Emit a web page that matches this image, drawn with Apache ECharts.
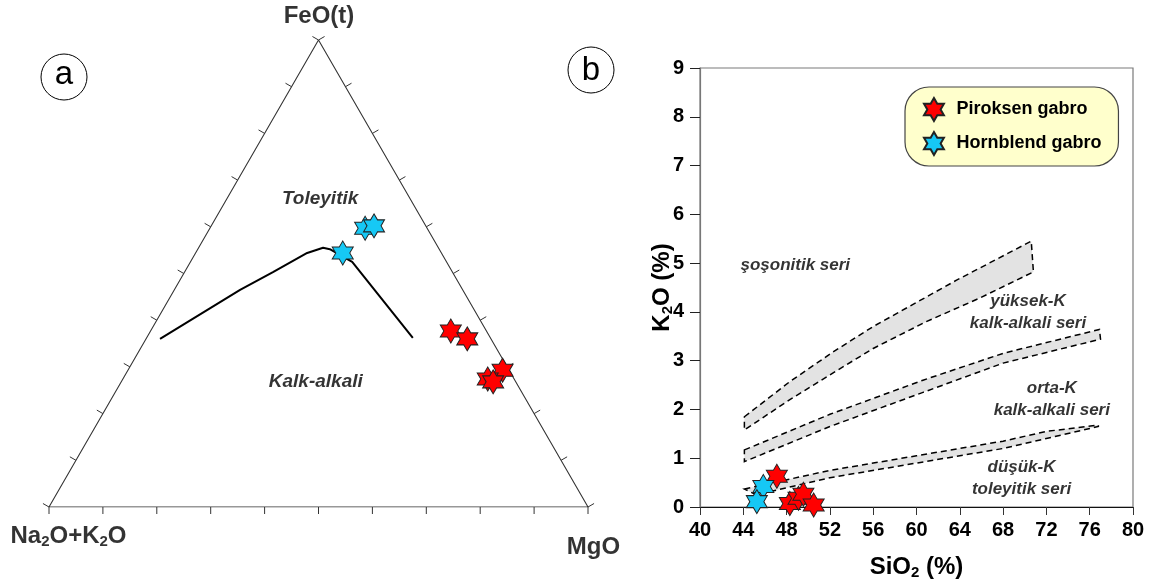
<!DOCTYPE html>
<html><head><meta charset="utf-8">
<script src="https://cdn.jsdelivr.net/npm/echarts@6/dist/echarts.min.js"></script>
<style>html,body{margin:0;padding:0;background:#fff}#c{width:1154px;height:585px}</style>
</head><body><div id="c"></div><script>
// ---------- (a) AFM ternary data: [Na2O+K2O, FeO(t), MgO] (%) ----------
const ternPiroksen = [[6.6,37.7,55.7],[4.4,36.0,59.6],[1.2,29.3,69.5],[4.9,27.4,67.7],[4.2,26.8,69.0]];
const ternHornblend = [[18.3,54.4,27.3],[11.5,59.7,28.8],[9.6,60.2,30.2]];
const ternBoundary = [[61.4,36.0,2.6],[41.3,46.5,12.2],[33.3,50.3,16.4],[24.9,54.4,20.7],[21.4,55.5,23.1],[20.3,55.2,24.5],[17.5,52.5,30.0],[14.4,36.2,49.4]];
const ternTicks = [0,10,20,30,40,50,60,70,80,90,100];
const ternVertexNames = ['Na2O+K2O','FeO(t)','MgO'];
const ternFieldNames = ['Toleyitik','Kalk-alkali'];
const ternFieldPos = [[16.7,66.0,17.3],[37.1,26.8,36.1]];

// ---------- (b) SiO2 vs K2O data ----------
const k2oPiroksen = [[47.1,0.63],[48.3,0.07],[49.1,0.18],[49.55,0.26],[50.5,0.04]];
const k2oHornblend = [[45.85,0.42],[45.25,0.11]];
const band1Upper = [[44.1,1.85],[48.3,2.57],[52.3,3.18],[56,3.70],[63.7,4.65],[70.6,5.45]];
const band1Lower = [[44.1,1.58],[48.3,2.2],[52.3,2.75],[56,3.25],[60.9,3.80],[65.8,4.28],[70.8,4.82]];
const band2Upper = [[44.1,1.17],[52,1.9],[60.6,2.6],[68,3.15],[76.9,3.64]];
const band2Lower = [[44.1,0.93],[52,1.65],[60.6,2.35],[68,2.95],[77,3.44]];
const band3Upper = [[44.1,0.37],[52,0.75],[60,1.05],[68,1.35],[72,1.55],[76.8,1.68]];
const band3Lower = [[45.2,0.25],[52,0.6],[60,0.9],[68,1.2],[76.8,1.65]];
const seriesFieldNames = ['şoşonitik seri','yüksek-K\nkalk-alkali seri','orta-K\nkalk-alkali seri','düşük-K\ntoleyitik seri'];
const seriesFieldPos = [[48.8,4.96],[70.3,4.0],[72.5,2.21],[69.7,0.59]];
const legendNames = ['Piroksen gabro','Hornblend gabro'];

// ---------- helpers ----------
const FF = '"Liberation Sans", Arial, sans-serif';
const SQ = Math.sqrt(3)/2;
function tern(p){const s=p[0]+p[1]+p[2];const F=p[1]/s,M=p[2]/s;return [M+F/2,F*SQ];}
const STAR = 'path://M0,-10L2.887,-5L8.66,-5L5.774,0L8.66,5L2.887,5L0,10L-2.887,5L-8.66,5L-5.774,0L-8.66,-5L-2.887,-5Z';
const RED = '#ff0000', BLUE = '#16c8f5';
const STARSIZE = [21,24];
const bands = [[band1Upper,band1Lower],[band2Upper,band2Lower],[band3Upper,band3Lower]];

// ternary tick marks: [x, y, nx, ny]
const tickData = [];
ternTicks.forEach(t=>{
  const b = tern([100-t,0,t]); tickData.push([b[0],b[1],0,1]);
  const l = tern([100-t,t,0]); tickData.push([l[0],l[1],-0.866,-0.5]);
  const r = tern([0,t,100-t]); tickData.push([r[0],r[1],0.866,-0.5]);
});
const triangle = [[100,0,0],[0,0,100],[0,100,0],[100,0,0]].map(tern);

const rich = {
  b:{fontSize:24,fontWeight:'bold',fontFamily:FF,color:'#000'},
  s:{fontSize:15,fontWeight:'bold',fontFamily:FF,color:'#000',verticalAlign:'bottom',padding:[11,0,0,0]}
};

const chart = echarts.init(document.getElementById('c'));
chart.setOption({
  animation:false,
  backgroundColor:'#fff',
  grid:[
    {left:49,top:40,width:539,height:467,show:false},
    {left:700,top:68,width:433,height:439,show:true,borderColor:'#7a7a7a',borderWidth:1.2,backgroundColor:'transparent'}
  ],
  xAxis:[
    {gridIndex:0,type:'value',min:0,max:1,show:false},
    {gridIndex:1,type:'value',min:40,max:80,interval:4,
     name:'{b|SiO}{s|2}{b| (%)}',nameLocation:'middle',nameGap:47,nameMoveOverlap:false,nameTextStyle:{rich:rich},
     axisLine:{lineStyle:{color:'#111',width:1.2}},
     axisTick:{inside:false,length:8,lineStyle:{color:'#333'}},
     axisLabel:{margin:13,fontSize:20,fontWeight:'bold',fontFamily:FF,color:'#000'},
     splitLine:{show:false}}
  ],
  yAxis:[
    {gridIndex:0,type:'value',min:0,max:SQ,show:false},
    {gridIndex:1,type:'value',min:0,max:9,interval:1,
     name:'{b|K}{s|2}{b|O (%)}',nameLocation:'middle',nameGap:25,nameRotate:90,nameMoveOverlap:false,nameTextStyle:{rich:rich},
     axisLine:{show:true,lineStyle:{color:'#777',width:1.2}},
     axisTick:{show:true,inside:false,length:10,lineStyle:{color:'#222'}},
     axisLabel:{margin:16,fontSize:20,fontWeight:'bold',fontFamily:FF,color:'#000'},
     splitLine:{show:false}}
  ],
  legend:{
    data:[{name:legendNames[0],icon:STAR},{name:legendNames[1],icon:STAR}],
    orient:'vertical',left:905,top:87,itemWidth:21,itemHeight:23,itemGap:9,
    padding:[10,17,10,18],backgroundColor:'#ffffcc',borderColor:'#444',borderWidth:1.2,borderRadius:24,
    textStyle:{fontSize:18,fontWeight:'bold',fontFamily:FF,color:'#000',padding:[0,0,0,7]}
  },
  graphic:[
    {type:'circle',shape:{cx:64,cy:77,r:23},style:{fill:'none',stroke:'#000',lineWidth:1}},
    {type:'text',x:64,y:75,style:{text:'a',font:'33px '+FF,fill:'#000',align:'center',verticalAlign:'middle'}},
    {type:'circle',shape:{cx:591,cy:70,r:23},style:{fill:'none',stroke:'#000',lineWidth:1}},
    {type:'text',x:591,y:71,style:{text:'b',font:'33px '+FF,fill:'#000',align:'center',verticalAlign:'middle'}}
  ],
  series:[
    // ----- ternary frame -----
    {type:'line',xAxisIndex:0,yAxisIndex:0,data:triangle,symbol:'none',lineStyle:{color:'#333',width:1.1},z:2,silent:true},
    {type:'custom',xAxisIndex:0,yAxisIndex:0,data:tickData,z:2,silent:true,
     renderItem:function(params,api){
       const p=api.coord([api.value(0),api.value(1)]);const nx=api.value(2),ny=api.value(3);
       return {type:'line',shape:{x1:p[0],y1:p[1],x2:p[0]+nx*7,y2:p[1]+ny*7},style:{stroke:'#333',lineWidth:1}};
     }},
    {type:'line',xAxisIndex:0,yAxisIndex:0,data:ternBoundary.map(tern),symbol:'none',lineStyle:{color:'#000',width:2},z:3,silent:true},
    {type:'scatter',xAxisIndex:0,yAxisIndex:0,symbol:'circle',symbolSize:1,itemStyle:{color:'rgba(0,0,0,0)'},z:6,silent:true,
     label:{show:true,position:'inside',formatter:'{b}',fontSize:19,fontWeight:'bold',fontStyle:'italic',fontFamily:FF,color:'#000'},
     data:ternFieldNames.map((n,i)=>({name:n,value:tern(ternFieldPos[i])}))},
    {type:'scatter',xAxisIndex:0,yAxisIndex:0,symbol:'circle',symbolSize:1,itemStyle:{color:'rgba(0,0,0,0)'},z:6,silent:true,
     data:[
       {name:ternVertexNames[0],value:tern([100,0,0]),label:{show:true,position:[0,0],offset:[20,30],align:'center',verticalAlign:'middle',formatter:'{b|Na}{s|2}{b|O+K}{s|2}{b|O}',rich:rich}},
       {name:ternVertexNames[1],value:tern([0,100,0]),label:{show:true,position:[0,0],offset:[1,-23],align:'center',verticalAlign:'middle',formatter:'{b|FeO(t)}',rich:rich}},
       {name:ternVertexNames[2],value:tern([0,0,100]),label:{show:true,position:[0,0],offset:[6,41],align:'center',verticalAlign:'middle',formatter:'{b|MgO}',rich:rich}}
     ]},
    {name:legendNames[0],type:'scatter',xAxisIndex:0,yAxisIndex:0,symbol:STAR,symbolSize:STARSIZE,z:5,
     itemStyle:{color:RED,borderColor:'#222',borderWidth:1,opacity:1},data:ternPiroksen.map(tern)},
    {name:legendNames[1],type:'scatter',xAxisIndex:0,yAxisIndex:0,symbol:STAR,symbolSize:STARSIZE,z:5,
     itemStyle:{color:BLUE,borderColor:'#222',borderWidth:1,opacity:1},data:ternHornblend.map(tern)},
    // ----- panel b -----
    {type:'custom',xAxisIndex:1,yAxisIndex:1,z:1,silent:true,
     data:bands.map((b,i)=>[44,1,i]),encode:{x:0,y:1},
     renderItem:function(params,api){
       const b=bands[api.value(2)];
       const pts=b[0].map(p=>api.coord(p)).concat(b[1].slice().reverse().map(p=>api.coord(p)));
       return {type:'polygon',shape:{points:pts},style:{fill:'#e3e3e3',stroke:'#000',lineWidth:1.5,lineDash:[6,4]}};
     }},
    {type:'scatter',xAxisIndex:1,yAxisIndex:1,symbol:'circle',symbolSize:1,itemStyle:{color:'rgba(0,0,0,0)'},z:6,silent:true,
     label:{show:true,position:'inside',formatter:'{b}',fontSize:17,lineHeight:22,fontWeight:'bold',fontStyle:'italic',fontFamily:FF,color:'#000',align:'center'},
     data:seriesFieldNames.map((n,i)=>({name:n,value:seriesFieldPos[i]}))},
    {name:legendNames[0],type:'scatter',xAxisIndex:1,yAxisIndex:1,symbol:STAR,symbolSize:STARSIZE,z:5,
     itemStyle:{color:RED,borderColor:'#222',borderWidth:1,opacity:1},data:k2oPiroksen},
    {name:legendNames[1],type:'scatter',xAxisIndex:1,yAxisIndex:1,symbol:STAR,symbolSize:STARSIZE,z:5,
     itemStyle:{color:BLUE,borderColor:'#222',borderWidth:1,opacity:1},data:k2oHornblend}
  ]
});
</script></body></html>
